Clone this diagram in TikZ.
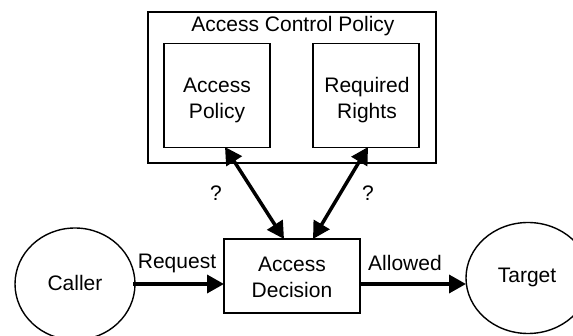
\documentclass[tikz,border=0pt]{standalone}
\usepackage{fontspec}
\setmainfont{Liberation Sans}
\usetikzlibrary{arrows.meta,shapes.geometric}
\tikzset{
  boxshape/.style={draw=black,line width=1.4pt,rectangle,inner sep=0pt,align=center,font=\fontsize{21}{26}\selectfont},
  round/.style={draw=black,line width=1.4pt,ellipse,inner sep=0pt,align=center,font=\fontsize{21}{26}\selectfont},
  lbl/.style={inner sep=0pt,align=center,font=\fontsize{21}{26}\selectfont},
  flow/.style={line width=3.5pt,-{Triangle[length=17pt,width=18pt]}},
  biflow/.style={line width=3.5pt,{Triangle[length=17pt,width=18pt]}-{Triangle[length=17pt,width=18pt]}},
}
\begin{document}
\begin{tikzpicture}[x=1pt,y=-1pt]
\useasboundingbox (0,0) rectangle (573,336);
\clip (0,0) rectangle (573,336);
\node[boxshape,minimum width=288pt,minimum height=151pt] (outer) at (292,87.5) {};
\node[lbl] (title) at (293,26) {Access Control Policy};
\node[boxshape,minimum width=106pt,minimum height=104pt] (ap) at (217,95.5) {};
\node[lbl] (aptext) at (217,100.5) {Access\\Policy};
\node[boxshape,minimum width=106pt,minimum height=104pt] (rr) at (366,95.5) {};
\node[lbl] (rrtext) at (367,100.5) {Required\\Rights};
\node[boxshape,minimum width=136pt,minimum height=74pt] (ad) at (292,276) {};
\node[lbl] (adtext) at (292,277) {Access\\Decision};
\node[round,minimum width=120pt,minimum height=112pt] (caller) at (75,284) {};
\node[lbl] (callertext) at (75,283) {Caller};
\node[round,minimum width=124pt,minimum height=111pt] (target) at (528,278) {};
\node[lbl] (targettext) at (527,277) {Target};
\coordinate (apb) at (225,147);
\coordinate (adl) at (284,239);
\coordinate (rrb) at (368,147);
\coordinate (adr) at (313,239);
\coordinate (cr) at (133,284);
\coordinate (adin) at (224,284);
\coordinate (ado) at (359,284);
\coordinate (tl) at (466,284);
\draw[biflow] (apb) -- (adl);
\draw[biflow] (rrb) -- (adr);
\draw[flow] (cr) -- (adin);
\draw[flow] (ado) -- (tl);
\node[lbl] (q1) at (216,193) {?};
\node[lbl] (q2) at (368,193) {?};
\node[lbl] (req) at (177,263) {Request};
\node[lbl] (all) at (405,263) {Allowed};
\end{tikzpicture}
\end{document}
